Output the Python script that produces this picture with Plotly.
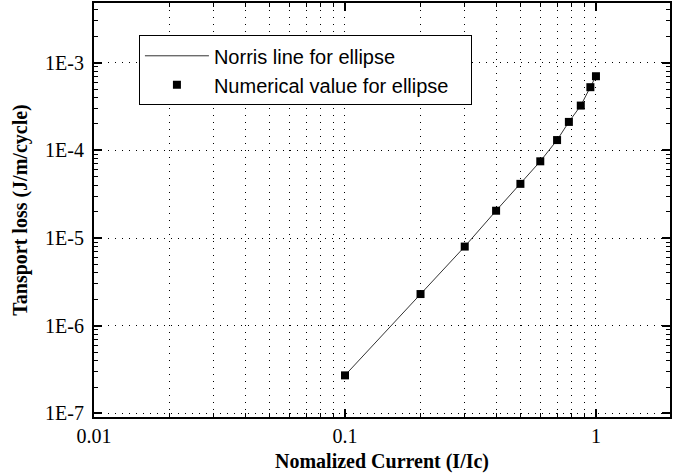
import plotly.graph_objects as go

# Data
current = [0.1, 0.2, 0.3, 0.4, 0.5, 0.6, 0.7, 0.78, 0.87, 0.95, 1.0]
numerical_loss = [2.72e-7, 2.30e-6, 8.0e-6, 2.05e-5, 4.15e-5, 7.5e-5, 1.31e-4, 2.11e-4, 3.24e-4, 5.25e-4, 7.0e-4]
norris_current = [0.1, 0.2, 0.3, 0.4, 0.5, 0.6, 0.7, 0.78, 0.87, 0.95, 1.0]
norris_loss = [2.72e-7, 2.30e-6, 8.0e-6, 2.05e-5, 4.15e-5, 7.5e-5, 1.31e-4, 2.11e-4, 3.24e-4, 5.25e-4, 7.0e-4]

x_tickvals = [0.01, 0.1, 1]
x_ticktext = ["0.01", "0.1", "1"]
y_tickvals = [1e-7, 1e-6, 1e-5, 1e-4, 1e-3]
y_ticktext = ["1E-7", "1E-6", "1E-5", "1E-4", "1E-3"]

fig = go.Figure()
fig.add_trace(go.Scatter(
    x=norris_current, y=norris_loss, mode="lines",
    name="Norris line for ellipse",
    line=dict(color="#333333", width=1),
))
fig.add_trace(go.Scatter(
    x=current, y=numerical_loss, mode="markers",
    name="Numerical value for ellipse\u00a0\u00a0\u00a0",
    marker=dict(symbol="square", size=8, color="black", line=dict(width=0)),
))

tickfont = dict(family="Liberation Serif", size=20, color="black")
titlefont = dict(family="Liberation Serif", size=20, color="black", weight="bold")

fig.update_layout(
    width=682, height=476,
    margin=dict(l=94, r=12, t=3, b=59),
    paper_bgcolor="white", plot_bgcolor="white",
    showlegend=True,
    legend=dict(
        x=0.078, y=0.922, xanchor="left", yanchor="top",
        bgcolor="white", bordercolor="black", borderwidth=1,
        font=dict(family="Liberation Sans", size=20, color="black"),
        itemwidth=64, tracegroupgap=0,
    ),
    xaxis=dict(
        type="log", range=[-2, 0.295], automargin=False,
        tickvals=x_tickvals, ticktext=x_ticktext,
        ticks="inside", ticklen=8, tickwidth=1.5, tickcolor="black",
        showline=True, linecolor="black", linewidth=2, mirror="allticks",
        showgrid=True, gridcolor="black", gridwidth=1, griddash="1px,6px",
        zeroline=False,
        tickfont=tickfont,
        title=dict(text="Nomalized Current (I/Ic)", font=titlefont, standoff=8),
        minor=dict(ticks="inside", ticklen=4, tickcolor="black", tickwidth=1,
                   dtick="D1", showgrid=True, gridcolor="black", gridwidth=1,
                   griddash="1px,6px"),
    ),
    yaxis=dict(
        type="log", range=[-7.04, -2.32], automargin=False,
        tickvals=y_tickvals, ticktext=y_ticktext,
        ticks="inside", ticklen=8, tickwidth=1.5, tickcolor="black",
        showline=True, linecolor="black", linewidth=2, mirror="allticks",
        showgrid=True, gridcolor="black", gridwidth=1, griddash="1px,6px",
        zeroline=False,
        tickfont=tickfont,
        ticklabelstandoff=4,
        title=dict(text="Tansport loss (J/m/cycle)", font=titlefont, standoff=12),
        minor=dict(ticks="inside", ticklen=4, tickcolor="black", tickwidth=1,
                   dtick="D1", showgrid=False),
    ),
)

fig.write_html("out.html", config={"displayModeBar": False},
               post_script="document.body.style.margin='0';")
